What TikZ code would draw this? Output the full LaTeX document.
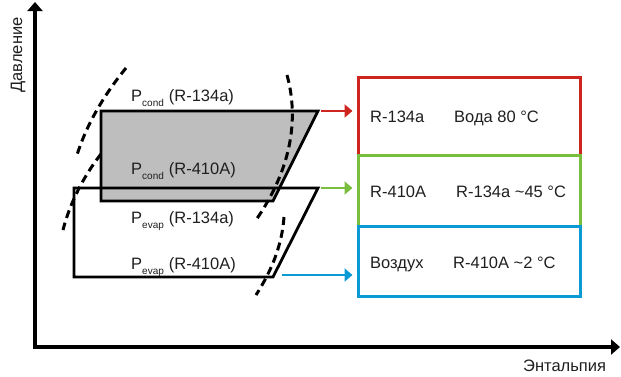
\documentclass[tikz,border=0pt]{standalone}
\usepackage{fontspec}
\setmainfont{Liberation Sans}
\usetikzlibrary{arrows.meta}
\definecolor{bred}{RGB}{206,38,30}
\definecolor{bgreen}{RGB}{122,190,62}
\definecolor{bblue}{RGB}{10,155,215}
\definecolor{qgray}{RGB}{190,190,190}
\newcommand{\psublbl}[2]{P\raisebox{-5pt}{\fontsize{10}{10}\selectfont #1}\hspace{5pt}(#2)}
\begin{document}
\begin{tikzpicture}[x=1pt,y=-1pt,
  font=\fontsize{16.5}{18}\selectfont,
  axis/.style={line width=3.2pt,-{Triangle[length=9pt,width=15pt]}},
  quad/.style={line width=2.8pt, line join=miter},
  dome/.style={line width=3pt, dash pattern=on 8pt off 5pt},
  boxr/.style={draw=#1, line width=3pt, minimum width=222pt, inner sep=0pt},
  link/.style={line width=2.6pt, draw=#1, -{Triangle[length=8pt,width=13pt,fill=#1]}, shorten >=4pt},
  lbl/.style={anchor=base west, inner sep=0pt, text=black!88}]
\useasboundingbox (0,0) rectangle (621,376);

% axes
\coordinate (O) at (35,347);
\coordinate (ytip) at (35,2);
\coordinate (xtip) at (620,347);
\draw[axis] (O) -- (ytip);
\draw[axis] ([xshift=-1.6pt]O) -- (xtip);
\node[rotate=90, text=black!88, inner sep=0pt] (ylab) at (18,55) {Давление};
\node[lbl] (xlab) at (523,371) {Энтальпия};

% cycles
\fill[qgray] (101,111) -- (318,111) -- (273,201) -- (101,201) -- cycle;
\draw[quad] (101,111) -- (318,111) -- (273,201) -- (101,201) -- cycle;
\draw[quad] (74,188) -- (318,188) -- (273,277) -- (74,277) -- cycle;

% saturation domes
\draw[dome] (126,68) .. controls (108,90) and (88,120) .. (77,155);
\draw[dome] (101,154) .. controls (90,168) and (72,195) .. (63,230);
\draw[dome] (287,75) .. controls (298,115) and (294,165) .. (256,220);
\draw[dome] (284,217) .. controls (282,245) and (272,270) .. (256,295);

% pressure labels
\node[lbl] (pc1) at (131,101) {\psublbl{cond}{R-134a}};
\node[lbl] (pc2) at (131,174) {\psublbl{cond}{R-410A}};
\node[lbl] (pe1) at (131,223) {\psublbl{evap}{R-134a}};
\node[lbl] (pe2) at (131,269) {\psublbl{evap}{R-410A}};

% boxes
\node[boxr=bred, minimum height=78pt] (rbox) at (469,116) {};
\node[boxr=bgreen, minimum height=71pt] (gbox) at (469,190.5) {};
\node[boxr=bblue, minimum height=70pt] (bbox) at (469,261) {};

\node[lbl] (r1) at (370,122) {R-134a};
\node[lbl] (r2) at (454,122) {Вода 80 °C};
\node[lbl] (g1) at (370,197) {R-410A};
\node[lbl] (g2) at (456,197) {R-134a \textasciitilde45 °C};
\node[lbl] (b1) at (370,268) {Воздух};
\node[lbl] (b2) at (453,268) {R-410A \textasciitilde2 °C};

% arrows
\coordinate (ra) at (321,111);
\coordinate (ga) at (321,188);
\coordinate (ba) at (282,275);
\draw[link=bred] (ra) -- (ra -| rbox.west);
\draw[link=bgreen] (ga) -- (ga -| gbox.west);
\draw[link=bblue] (ba) -- (ba -| bbox.west);
\end{tikzpicture}
\end{document}
